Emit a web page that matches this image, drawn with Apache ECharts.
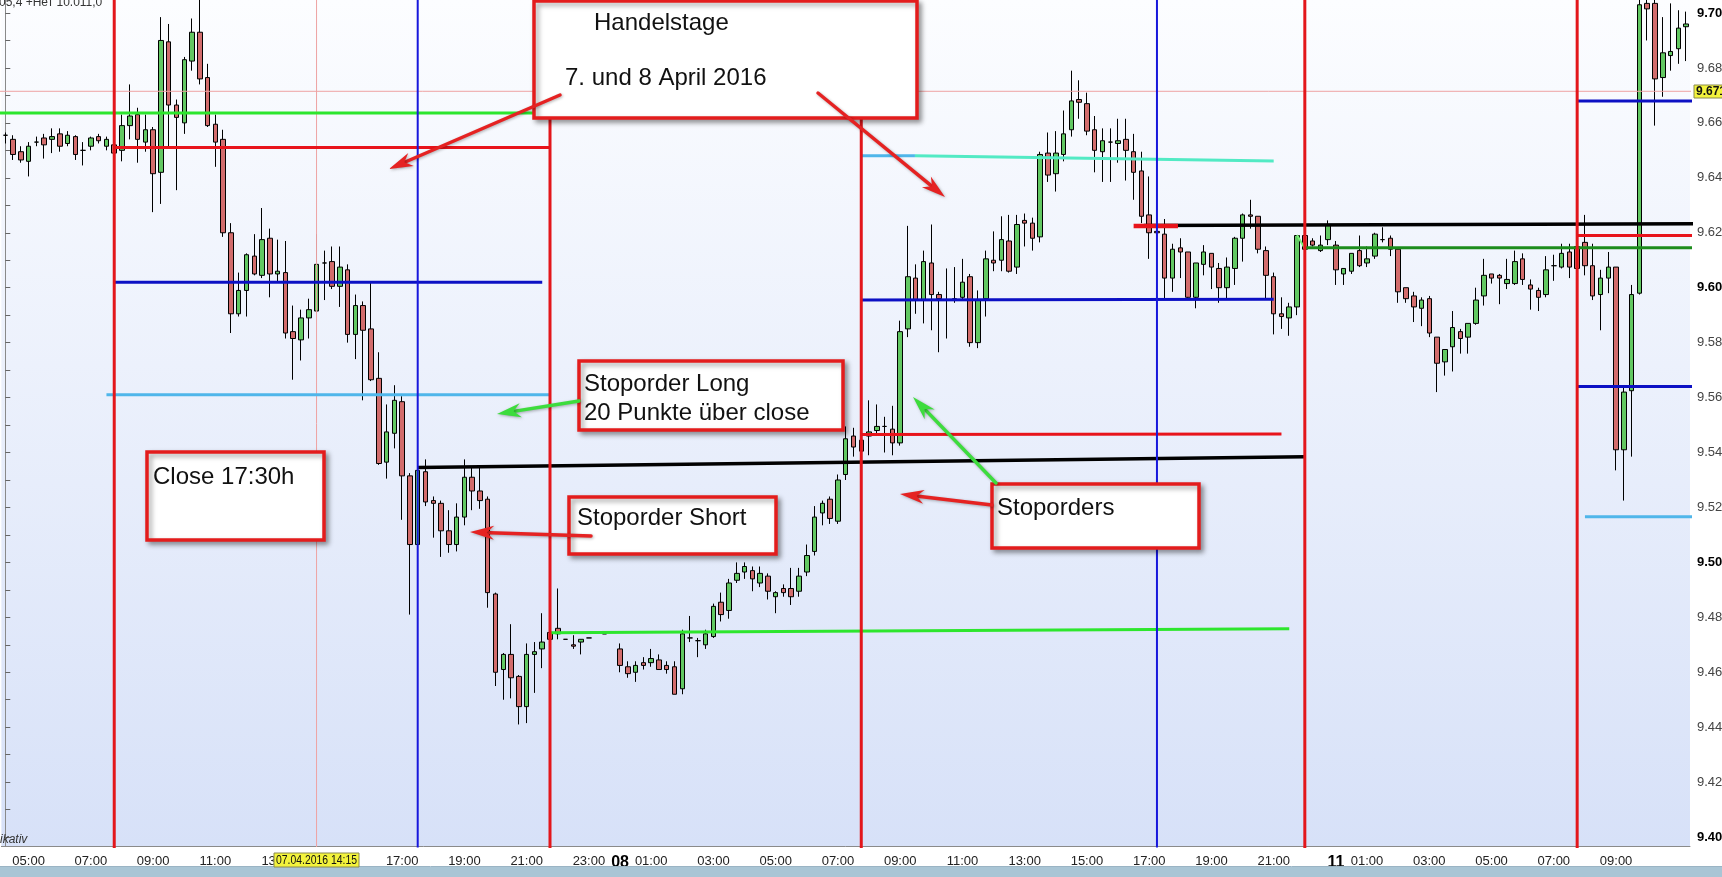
<!DOCTYPE html>
<html><head><meta charset="utf-8">
<style>html,body{margin:0;padding:0;background:#fff;overflow:hidden}#c{width:1722px;height:877px}</style>
<script src="https://cdn.jsdelivr.net/npm/echarts@6/dist/echarts.min.js"></script>
</head><body><div id="c"></div>
<script>
// ---- time slots (15-minute bars), sessions: [day, first bar, number of bars]
const sessions = [['07','04:15',79],['08','00:00',89],['10','23:15',3],['11','00:00',46]];
const xLabelSlots = ['07 05:00','07 07:00','07 09:00','07 11:00','07 13:00','07 15:00','07 17:00','07 19:00','07 21:00','07 23:00',
  '08 00:00','08 01:00','08 03:00','08 05:00','08 07:00','08 09:00','08 11:00','08 13:00','08 15:00','08 17:00','08 19:00','08 21:00',
  '11 00:00','11 01:00','11 03:00','11 05:00','11 07:00','11 09:00'];

// ---- OHLC (index points)
const openVals = [
 9655.5,9654,9649.5,9646,9653,9654.5,9654,9656,9652.5,9655,
 9650,9651.5,9655,9651.5,9652,9650,9659,9663,9653,9657.5,
 9642,9689.5,9666.5,9660,9682.5,9693,9676.5,9659.5,9654,9620,
 9590.5,9599,9611.5,9604.5,9618,9605,9605.5,9584,9581,9589,
 9591.5,9609,9609.5,9600.5,9606.5,9583,9593.5,9585,9567,9536.5,
 9547,9558.5,9531.5,9506.5,9533,9522.5,9521.5,9511.5,9506.5,9516.5,
 9531,9526,9523,9488.5,9461,9466.5,9458.5,9447.5,9466.5,9468.5,
 9474.5,9476,9472,9470,9471,9472.5,null,9474,null,9468.5,
 9462,9460,9463.5,9463.5,9464.5,9462.5,9462,9454,9472.5,9471.5,
 9470,9473,9485.5,9482.5,9493.5,9496.5,9497,9492.5,9495,9487.5,
 9490.5,9490.5,9489.5,9496.5,9504,9518,9523,9515,9532,9546,
 9544.5,9546,9548,9549.5,9548.5,9543.5,9585,9603.5,9595.5,9609,
 9597.5,9595.5,9596,9596.5,9604,9580,9596,9610,9610,9617,
 9607.5,9624.5,9623.5,9618.5,9649,9641.5,9648.5,9657.5,9668.5,9667,
 9657.5,9649.5,9653,9652.5,9654,9649.5,9642.5,9626.5,9620.5,9619.5,
 9603.5,9614.5,9613,9596.5,9608.5,9612.5,9607,9600,9607,9618,
 9626.5,9626,9613.5,9604,9590.5,9589,9593,9619,9617,9613.5,
 9617.5,9615.5,9605,9606,9613.5,9609,9611.5,9617.5,9618,9614,
 9600,9597,9592.5,9596,9582,9573,9578.5,9584,9582,9587,
 9597,9605,9604.5,9601.5,9601.5,9610.5,9601,9599,9597.5,9608,
 9607.5,9613,9615,9616.5,9608,9597.5,9603.5,9607.5,9541,9562.5,
 9598,9703.5,9703.5,9676.5,9684.5,9687,9695];
const closeVals = [
 9655.5,9648.5,9646.5,9651.5,9653,9652,9655,9651.5,9655.5,9648.5,
 9650,9654.5,9653.5,9654,9649,9659,9662.5,9654,9657.5,9641.5,
 9690,9666.5,9662,9683,9693,9676,9659,9653,9620,9590.5,
 9599,9612,9605,9617.5,9605,9606,9583.5,9581.5,9589,9592,
 9608.5,9609,9600.5,9607.5,9583,9593.5,9584.5,9566.5,9536,9547.5,
 9559,9531.5,9506.5,9533.5,9522,9521.5,9511.5,9506.5,9516.5,9531,
 9526,9522.5,9489,9460,9466.5,9458,9447.5,9466.5,9467.5,9471,
 9472,9474,9472,9469.5,9472,9472.5,null,9474,null,9462.5,
 9459.5,9462.5,9462.5,9465,9461,9461,9452,9474,9472.5,9471.5,
 9474,9484,9481,9492.5,9496,9498.5,9494,9496,9489.5,9489,
 9489,9487.5,9495,9502.5,9516.5,9521.5,9516,9530,9545,9542,
 9540.5,9547.5,9549.5,9549.5,9543.5,9584,9604,9595.5,9609.5,9597.5,
 9596,9595.5,9595.5,9602,9580,9595.5,9610.5,9609,9617.5,9606,
 9623,9623.5,9618,9648.5,9641,9649,9656,9668,9667.5,9657,
 9650,9653.5,9653,9653.5,9650,9642,9626,9620,9620,9603.5,
 9614,9613,9596.5,9609,9613,9607.5,9600,9607.5,9618,9626.5,
 9626,9614,9604.5,9590.5,9589.5,9593,9619,9614,9615.5,9615.5,
 9623,9606.5,9607,9612.5,9608,9610.5,9619.5,9617.5,9614,9598.5,
 9596,9593,9595.5,9583.5,9572.5,9577.5,9585.5,9581.5,9587,9595.5,
 9604.5,9603.5,9603.5,9603,9609.5,9603,9599.5,9596.5,9606.5,9608,
 9612.5,9607.5,9607,9608,9597,9603.5,9607.5,9541,9562,9597.5,
 9703,9701.5,9676,9685.5,9686,9694.5,9696];
const lowVals = [
 9652.5,9646.5,9645.5,9640.5,9651.5,9647,9649,9649.5,9651.5,9646.5,
 9644.5,9650,9652.5,9650,9648,9646,9654,9645.5,9649.5,9627.5,
 9630.5,9651,9635.5,9656,9679,9674,9658.5,9644,9618.5,9583.5,
 9589.5,9589.5,9604.5,9603.5,9596.5,9602,9581.5,9566.5,9573.5,9581.5,
 9591,9595.5,9599.5,9593,9580,9574,9559,9566,9535.5,9530.5,
 9541.5,9515.5,9481,9506,9520.5,9509,9502,9503.5,9504,9513.5,
 9519,9519.5,9483.5,9455,9450,9450.5,9441,9441.5,9452.5,9461.5,
 9471,9472,9472,9468.5,9466.5,9472.5,null,9474,null,9460,
 9458,9456.5,9461,9462,9461,9459.5,9452,9452,9471,9465.5,
 9468.5,9472.5,9478.5,9479.5,9492.5,9494,9489.5,9491,9486.5,9481.5,
 9487.5,9484.5,9487.5,9495,9502.5,9513.5,9514,9514,9530,9538.5,
 9540,9539,9547,9540,9539,9542.5,9582,9590.5,9587,9584.5,
 9576.5,9581.5,9594.5,9595.5,9578.5,9578,9589.5,9606,9606,9605.5,
 9605,9615,9613.5,9616.5,9638.5,9635,9646,9655,9661.5,9655.5,
 9642,9638.5,9638.5,9645.5,9639,9632,9623.5,9610.5,9620,9596,
 9598.5,9603.5,9596,9592.5,9604.5,9599.5,9594.5,9596,9601,9609.5,
 9621.5,9612.5,9596,9583,9585,9582.5,9590,9614,9615,9613,
 9615.5,9601,9601,9605,9607.5,9607.5,9610.5,9616.5,9611.5,9594.5,
 9594.5,9587.5,9586,9582,9562,9568,9569.5,9576,9576,9586.5,
 9593.5,9601.5,9594,9599.5,9601,9601,9592,9591.5,9596.5,9602.5,
 9607,9603.5,9607,9604.5,9595.5,9584.5,9598,9533.5,9522.5,9538.5,
 9597.5,9690,9659,9669.5,9679,9681.5,9682.5];
const highVals = [
 9656.5,9655.5,9651.5,9653,9655,9656,9658,9658,9657,9655.5,
 9653,9655,9656,9655,9653.5,9663,9674,9665.5,9663,9658.5,
 9698.5,9696,9668.5,9684,9698,9708,9681.5,9663,9657.5,9623.5,
 9605.5,9612.5,9619.5,9629,9621.5,9617.5,9617,9593.5,9592,9596,
 9619.5,9613.5,9615,9615,9608.5,9597.5,9595,9602,9576.5,9557.5,
 9564.5,9560.5,9532.5,9534,9537.5,9524,9522.5,9519,9521.5,9537.5,
 9534.5,9534.5,9524,9489,9467,9477.5,9459,9470.5,9471,9481.5,
 9475,9490.5,9472,9473.5,9472,9472.5,null,9474,null,9470.5,
 9464,9464,9465.5,9468.5,9466.5,9464,9464,9475.5,9480.5,9472.5,
 9475.5,9485,9489,9494,9500,9500,9498.5,9498.5,9496,9489.5,
 9492,9498,9498,9506.5,9520.5,9522.5,9524,9532,9549.5,9549,
 9547,9559,9557.5,9553,9557,9588,9622.5,9608.5,9613.5,9623,
 9598.5,9607,9607.5,9610.5,9605,9599,9613.5,9620.5,9626,9626.5,
 9626.5,9627,9625.5,9649.5,9656.5,9657,9664.5,9679,9675.5,9671,
 9662.5,9658,9658,9661.5,9661.5,9656,9649.5,9640.5,9620.5,9625,
 9616,9618,9613,9609,9615.5,9612.5,9609,9611,9618.5,9627,
 9632,9626,9615,9605.5,9596.5,9594.5,9619,9619,9618,9619,
 9624.5,9617,9607,9612.5,9619,9615,9620,9622,9619,9614,
 9600,9598.5,9596.5,9597,9582,9577.5,9591.5,9585,9587,9600,
 9610.5,9605,9605,9610.5,9613.5,9612.5,9603,9600,9611.5,9612,
 9616,9616,9615,9626.5,9616,9606.5,9613,9607.5,9563.5,9601,
 9706,9708,9708,9698.5,9703.5,9701,9700.5];

// ---- y axis values
const yLabelValues = [9400,9420,9440,9460,9480,9500,9520,9540,9560,9580,9600,9620,9640,9660,9680,9700];
const yTickValues = [9400,9410,9420,9430,9440,9450,9460,9470,9480,9490,9500,9510,9520,9530,9540,9550,9560,9570,9580,9590,
  9600,9610,9620,9630,9640,9650,9660,9670,9680,9690,9700];

// ---- annotation levels (slot index, price)
const sessionLineSlots = [14,70,110,167,202];
const closeLineSlots = [53,148];
const cursorSlot = 40, cursorPrice = 9671.5;
const levelLines = [
 ['green',    [[-1,9663.6],[70,9663.6]]],
 ['red',      [[14,9651],[70,9651]]],
 ['blue',     [[14,9602],[69,9602]]],
 ['lightblue',[[13,9561],[70,9561]]],
 ['green',    [[70,9474.4],[165,9475.8]]],
 ['black',    [[53,9534.5],[167,9538.5]]],
 ['lightblue',[[110,9648],[116.9,9648]]],
 ['aqua',     [[116.9,9648],[163,9646.1]]],
 ['blue',     [[110,9595.5],[163,9595.8]]],
 ['red',      [[110,9546.6],[164,9546.7]]],
 ['black',    [[146.3,9622.6],[217,9623.3]]],
 ['redthick', [[145,9622.5],[150.7,9622.5]]],
 ['lightgreen',[[166,9619.2],[167,9614.3]]],
 ['darkgreen',[[167,9614.5],[217,9614.5]]],
 ['red',      [[202,9619],[217,9619]]],
 ['blue',     [[202,9668],[217,9668]]],
 ['blue',     [[202,9564],[217,9564]]],
 ['lightblue',[[203,9516.6],[217,9516.6]]]
];

function buildSlots(){
  const out=[];
  for (const [d,start,n] of sessions){
    const [h,m]=start.split(':').map(Number);
    const t0=h*60+m;
    for(let k=0;k<n;k++){
      const tt=t0+15*k;
      out.push(d+' '+String(Math.floor(tt/60)%24).padStart(2,'0')+':'+String(tt%60).padStart(2,'0'));
    }
  }
  return out;
}
const slots = buildSlots();
const candles = slots.map((s,i)=> openVals[i]==null ? '-' : [openVals[i],closeVals[i],lowVals[i],highVals[i]]);
const labelSet = new Set(xLabelSlots);

const styles = {
  green:{color:'#2de62d',width:3}, red:{color:'#e8141b',width:3}, blue:{color:'#0c10c4',width:3},
  lightblue:{color:'#4fb6ea',width:3}, black:{color:'#000000',width:3.5}, aqua:{color:'#52eac4',width:3},
  lightgreen:{color:'#77ee77',width:2}, darkgreen:{color:'#1c8c1c',width:3}, redthick:{color:'#e8141b',width:4.5}
};

const series = [{
  type:'candlestick', xAxisIndex:0, yAxisIndex:0, data:candles, barWidth:5, z:2,
  itemStyle:{color:'#62c862', color0:'#d26c6c', borderColor:'#000', borderColor0:'#000', borderWidth:1}
}];
levelLines.forEach(([k,pts])=>{
  series.push({type:'line', xAxisIndex:1, yAxisIndex:0, data:pts, symbol:'none', silent:true, z:4,
    lineStyle:{color:styles[k].color, width:styles[k].width}});
});
function vline(s,color,width,z){
  series.push({type:'line', xAxisIndex:1, yAxisIndex:0, data:[[s,9380],[s,9720]], symbol:'none', silent:true, z:z,
    lineStyle:{color:color,width:width}});
}
vline(cursorSlot,'#eea3a3',1,3);
series.push({type:'line', xAxisIndex:1, yAxisIndex:0, data:[[-2,cursorPrice],[220,cursorPrice]], symbol:'none', silent:true, z:3,
  lineStyle:{color:'#eea3a3',width:1}});
sessionLineSlots.forEach(s=>vline(s,'#e3161b',3,5));
closeLineSlots.forEach(s=>vline(s,'#1717dc',2,5));

// ---- annotation graphics (pixel layout)
const FONT = '"Liberation Sans", Arial, sans-serif';
const graphics = [];
function box(x,y,w,h){
  graphics.push({type:'rect', shape:{x:x,y:y,width:w,height:h}, z:110,
    style:{fill:'#ffffff', stroke:'#e31c1c', lineWidth:3.5, shadowBlur:5, shadowOffsetX:3, shadowOffsetY:3, shadowColor:'rgba(0,0,0,0.35)'}});
}
function txt(x,y,t,size){
  graphics.push({type:'text', x:x, y:y, z:115, style:{text:t, font:(size||24)+'px '+FONT, fill:'#111', verticalAlign:'middle', align:'left'}});
}
function arrow(x1,y1,x2,y2,color){
  const dx=x2-x1, dy=y2-y1, L=Math.hypot(dx,dy), ux=dx/L, uy=dy/L, px=-uy, py=ux;
  const hl=24, hw=7, bx=x2-ux*hl, by=y2-uy*hl;
  graphics.push({type:'line', z:120, shape:{x1:x1,y1:y1,x2:x2-ux*12,y2:y2-uy*12},
    style:{stroke:color,lineWidth:3.5,lineCap:'round',shadowBlur:3,shadowOffsetX:1,shadowOffsetY:1,shadowColor:'rgba(0,0,0,0.3)'}});
  graphics.push({type:'polygon', z:121, shape:{points:[[x2,y2],[bx+px*hw,by+py*hw],[x2-ux*hl*0.7,y2-uy*hl*0.7],[bx-px*hw,by-py*hw]]},
    style:{fill:color,shadowBlur:3,shadowOffsetX:1,shadowOffsetY:1,shadowColor:'rgba(0,0,0,0.3)'}});
}
box(534,1,383,117); txt(594,23,'Handelstage'); txt(565,78,'7. und 8 April 2016');
box(579,361,264,69); txt(584,384,'Stoporder Long'); txt(584,413,'20 Punkte über close');
box(147,452,177,88); txt(153,477,'Close 17:30h');
box(569,497,207,57); txt(577,518,'Stoporder Short');
box(992,484,207,64); txt(997,508,'Stoporders');
const RED='#e52222', GRN='#3ddc3d';
arrow(560,95,389,169,RED);
arrow(818,93,945,197,RED);
arrow(579,401,497,414,GRN);
arrow(591,536,470,532,RED);
arrow(996,483,913,397,GRN);
arrow(992,505,900,494,RED);
// cursor readouts
graphics.push({type:'rect', z:130, shape:{x:274,y:853,width:85,height:14}, style:{fill:'#f3f33c',stroke:'#8a8a50',lineWidth:1}});
graphics.push({type:'text', z:131, x:316.5, y:860.5, scaleX:0.8, style:{text:'07.04.2016 14:15', font:'13px '+FONT, fill:'#111', align:'center', verticalAlign:'middle'}});
graphics.push({type:'rect', z:130, shape:{x:1694,y:85,width:34,height:13}, style:{fill:'#f3f33c',stroke:'#8a8a50',lineWidth:1}});
graphics.push({type:'text', z:131, x:1696, y:91.5, style:{text:'9.671', font:'bold 12px '+FONT, fill:'#111', align:'left', verticalAlign:'middle'}});
graphics.push({type:'text', z:131, x:-1, y:3, style:{text:'05,4 +Нет 10.011,0', font:'12px '+FONT, fill:'#333', align:'left', verticalAlign:'middle'}});
graphics.push({type:'text', z:131, x:0, y:840, style:{text:'ikativ', font:'italic 12px '+FONT, fill:'#333', align:'left', verticalAlign:'middle'}});
graphics.push({type:'rect', z:50, shape:{x:0,y:867,width:1722,height:10}, style:{fill:'#a9c5d5'}});
graphics.push({type:'line', z:51, shape:{x1:0,y1:866.5,x2:1722,y2:866.5}, style:{stroke:'#9ab4c4',lineWidth:1}});

const chart = echarts.init(document.getElementById('c'), null, {renderer:'canvas'});
chart.setOption({
  animation:false,
  backgroundColor:'#ffffff',
  grid:{left:1.4, right:32, top:0, bottom:30.4, show:true, borderWidth:0, containLabel:false, outerBoundsMode:'none',
    backgroundColor:{type:'linear',x:0,y:0,x2:0,y2:1,colorStops:[{offset:0,color:'#fcfdff'},{offset:1,color:'#d7e1f8'}]}},
  xAxis:[{
    type:'category', data:slots, boundaryGap:true,
    axisLine:{lineStyle:{color:'#8a8a8a',width:1}},
    axisTick:{alignWithLabel:true, length:4, interval:(i,v)=>labelSet.has(v), lineStyle:{color:'#555'}},
    axisLabel:{interval:(i,v)=>labelSet.has(v), margin:8, fontSize:13, fontFamily:FONT, color:'#222',
      formatter:(v)=>{const p=v.split(' '); return p[1]==='00:00' ? '{day|'+p[0]+'}' : p[1];},
      rich:{day:{fontSize:16, fontWeight:'bold', color:'#000', fontFamily:FONT}}},
    splitLine:{show:false}
  },{
    type:'value', min:-0.5, max:216.5, show:false
  }],
  yAxis:{
    type:'value', position:'right', min:9396.54, max:9704.73,
    axisLine:{show:true, lineStyle:{color:'#8a8a8a'}},
    axisTick:{show:true, customValues:yTickValues, length:5, lineStyle:{color:'#666'}},
    axisLabel:{customValues:yLabelValues, margin:7, fontSize:13, fontFamily:FONT, color:'#444',
      formatter:(v)=>{const s=(v/1000).toFixed(3); return (Math.round(v)%100===0) ? '{b|'+s+'}' : s;},
      rich:{b:{fontWeight:'bold', color:'#000', fontSize:13, fontFamily:FONT}}},
    splitLine:{show:false}
  },
  series:series,
  graphic:graphics
});
</script></body></html>
